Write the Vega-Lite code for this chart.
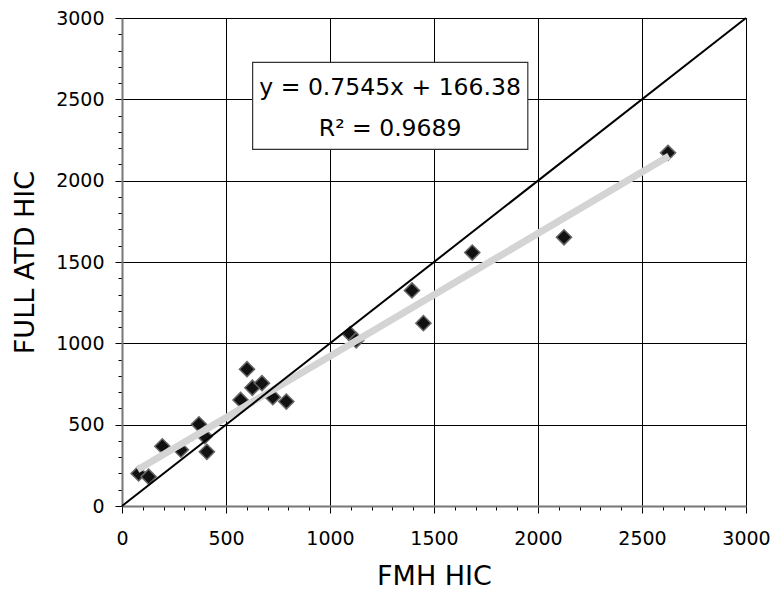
{
  "$schema": "https://vega.github.io/schema/vega-lite/v6.json",
  "width": 624,
  "height": 488,
  "autosize": {"type": "none"},
  "padding": {"left": 122, "top": 18, "right": 27, "bottom": 90},
  "background": "white",
  "config": {
    "view": {"stroke": "#000", "strokeWidth": 1},
    "font": "DejaVu Sans"
  },
  "datasets": {
    "pts": [
      {"x": 80, "y": 200}, {"x": 128, "y": 180}, {"x": 194, "y": 367}, {"x": 283, "y": 346},
      {"x": 370, "y": 502}, {"x": 398, "y": 429}, {"x": 408, "y": 333}, {"x": 570, "y": 652},
      {"x": 601, "y": 841}, {"x": 627, "y": 727}, {"x": 673, "y": 755}, {"x": 725, "y": 669},
      {"x": 790, "y": 642}, {"x": 1097, "y": 1056}, {"x": 1126, "y": 1019}, {"x": 1394, "y": 1325},
      {"x": 1449, "y": 1124}, {"x": 1684, "y": 1558}, {"x": 2125, "y": 1652}, {"x": 2625, "y": 2171}
    ],
    "fit": [{"x": 75, "y": 223}, {"x": 2630, "y": 2151}],
    "diag": [{"x": 0, "y": 0}, {"x": 3000, "y": 3000}],
    "box": [{"x": 628, "x2": 1951, "y": 2727, "y2": 2192}],
    "labels": [
      {"x": 1289, "y": 2526, "t": "y = 0.7545x + 166.38"},
      {"x": 1289, "y": 2274, "t": "R² = 0.9689"}
    ]
  },
  "encoding": {
    "x": {
      "field": "x", "type": "quantitative",
      "scale": {"domain": [0, 3000], "nice": false, "zero": false},
      "axis": {
        "title": "FMH HIC",
        "values": [0,100,200,300,400,500,600,700,800,900,1000,1100,1200,1300,1400,1500,1600,1700,1800,1900,2000,2100,2200,2300,2400,2500,2600,2700,2800,2900,3000],
        "format": "d",
        "labelExpr": "datum.value % 500 === 0 ? datum.label : ''",
        "labelOverlap": false,
        "labelFlush": false,
        "labelFontSize": 19,
        "labelColor": "#000",
        "labelPadding": 16,
        "tickColor": "#000",
        "tickSize": {"condition": {"test": "datum.value % 500 === 0", "value": 7}, "value": 4},
        "grid": true,
        "gridColor": "#000",
        "gridWidth": 1,
        "gridOpacity": {"condition": {"test": "datum.value % 500 === 0", "value": 1}, "value": 0},
        "domainColor": "#777",
        "domainWidth": 2,
        "titleFontSize": 27,
        "titleFontWeight": "normal",
        "titleColor": "#000",
        "titlePadding": 15
      }
    },
    "y": {
      "field": "y", "type": "quantitative",
      "scale": {"domain": [0, 3000], "nice": false, "zero": false},
      "axis": {
        "title": "FULL ATD HIC",
        "values": [0,100,200,300,400,500,600,700,800,900,1000,1100,1200,1300,1400,1500,1600,1700,1800,1900,2000,2100,2200,2300,2400,2500,2600,2700,2800,2900,3000],
        "format": "d",
        "labelExpr": "datum.value % 500 === 0 ? datum.label : ''",
        "labelOverlap": false,
        "labelFlush": false,
        "labelFontSize": 19,
        "labelColor": "#000",
        "labelPadding": 11,
        "tickColor": "#000",
        "tickSize": {"condition": {"test": "datum.value % 500 === 0", "value": 7}, "value": 4},
        "grid": true,
        "gridColor": "#000",
        "gridWidth": 1,
        "gridOpacity": {"condition": {"test": "datum.value % 500 === 0", "value": 1}, "value": 0},
        "domainColor": "#777",
        "domainWidth": 2,
        "titleFontSize": 27,
        "titleFontWeight": "normal",
        "titleColor": "#000",
        "titlePadding": 16
      }
    }
  },
  "layer": [
    {
      "data": {"name": "pts"},
      "mark": {"type": "point", "shape": "diamond", "filled": true, "size": 230, "fill": "#111", "stroke": "#666", "strokeWidth": 1.5, "opacity": 1}
    },
    {
      "data": {"name": "fit"},
      "mark": {"type": "line", "color": "#d4d4d4", "strokeWidth": 7, "strokeCap": "butt"}
    },
    {
      "data": {"name": "diag"},
      "mark": {"type": "line", "color": "#000", "strokeWidth": 2}
    },
    {
      "data": {"name": "box"},
      "mark": {"type": "rect", "fill": "white", "stroke": "#333", "strokeWidth": 1.2},
      "encoding": {"x2": {"field": "x2"}, "y2": {"field": "y2"}}
    },
    {
      "data": {"name": "labels"},
      "mark": {"type": "text", "fontSize": 23.5, "align": "center", "baseline": "alphabetic", "color": "#000"},
      "encoding": {"text": {"field": "t"}}
    }
  ]
}
